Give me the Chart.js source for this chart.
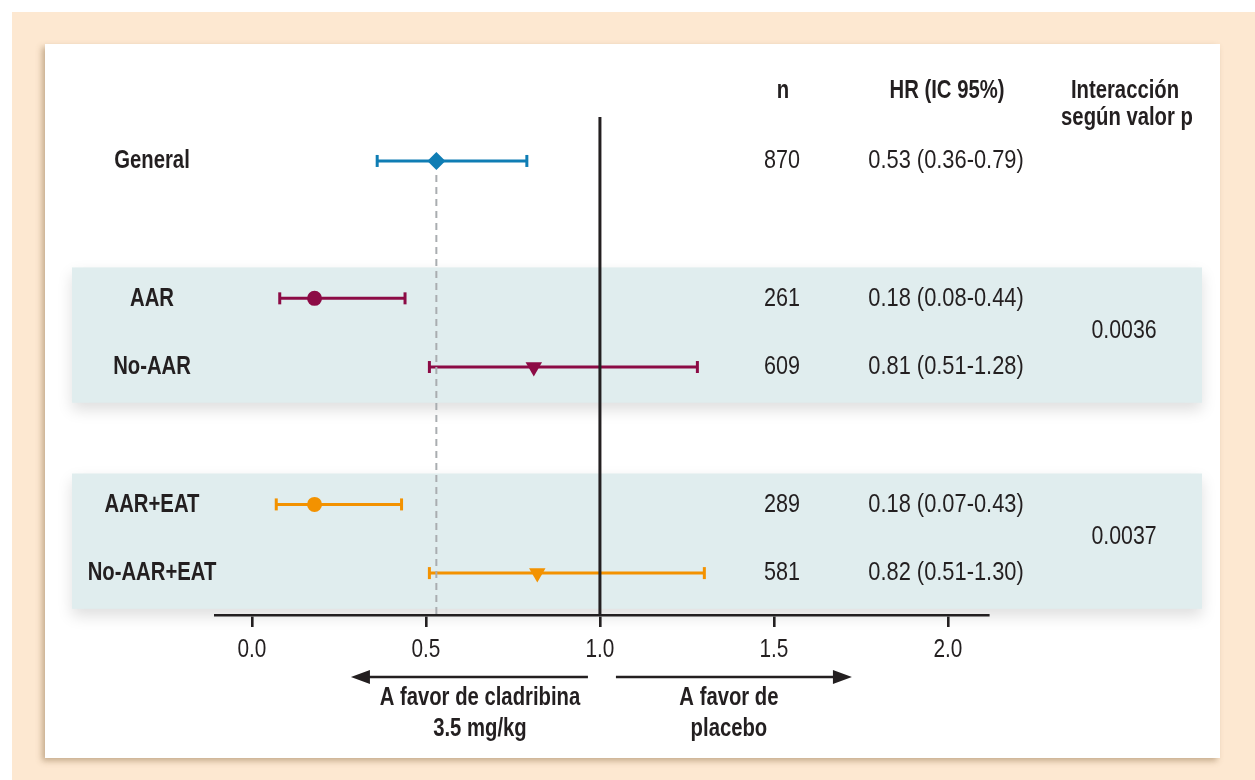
<!DOCTYPE html>
<html>
<head>
<meta charset="utf-8">
<script src="https://cdn.jsdelivr.net/npm/chart.js@4.4.1/dist/chart.umd.min.js"></script>
<style>
	html, body { margin: 0; padding: 0; background: #fff; }
	#wrap { width: 1255px; height: 780px; }
</style>
</head>
<body>
<div id="wrap"><canvas id="myChart" width="1255" height="780"></canvas></div>
<script>
// data
var groups = ["General", "AAR", "No-AAR", "AAR+EAT", "No-AAR+EAT"];
var rowSlot = [0, 2, 3, 5, 6];
var nValues = [870, 261, 609, 289, 581];
var hr = [0.53, 0.18, 0.81, 0.18, 0.82];
var ciLow = [0.36, 0.08, 0.51, 0.07, 0.51];
var ciHigh = [0.79, 0.44, 1.28, 0.43, 1.30];
var pInteraction = ["0.0036", "0.0037"];
var pGroups = [[1, 2], [3, 4]];
var xTicks = [0, 0.5, 1, 1.5, 2];

var colors = ["#0f7db4", "#8c0b45", "#8c0b45", "#f39200", "#f39200"];
var markers = ["rectRot", "circle", "triangle", "circle", "triangle"];
var markerSize = [9, 7.5, 9.5, 7.5, 9.5];
var markerRot = [0, 0, 180, 0, 180];

var ink = "#231f20";
var face = '"Liberation Sans", Arial, sans-serif';

// condensed text: squeeze a normal face horizontally
function txt(c, s, x, y, bold, size, squeeze) {
	c.save();
	c.font = (bold ? 'bold ' : '') + size + 'px ' + face;
	c.textAlign = 'center';
	c.textBaseline = 'middle';
	c.translate(x, y);
	c.scale(squeeze, 1);
	c.fillText(s, 0, 0);
	c.restore();
}

// datasets
var datasets = [{
	type: 'scatter',
	data: hr.map(function(v, i){ return {x: v, y: rowSlot[i]}; }),
	pointStyle: markers,
	pointRadius: markerSize,
	pointRotation: markerRot,
	backgroundColor: colors,
	borderColor: colors,
	pointBorderWidth: 0
}];
groups.forEach(function(g, i){
	datasets.push({
		type: 'line',
		data: [{x: ciLow[i], y: rowSlot[i]}, {x: ciHigh[i], y: rowSlot[i]}],
		borderColor: colors[i],
		borderWidth: 3,
		pointStyle: 'line',
		pointRotation: 90,
		pointRadius: 6,
		pointBorderWidth: 3,
		pointBorderColor: colors[i],
		tension: 0
	});
});

var forestDecor = {
	id: 'forestDecor',
	beforeDraw: function(chart){
		var c = chart.ctx, y = chart.scales.y;
		c.save();
		// page
		c.fillStyle = '#fde8d1';
		c.fillRect(12, 12, 1243, 768);
		c.shadowColor = 'rgba(130,100,60,0.45)';
		c.shadowBlur = 6;
		c.shadowOffsetX = -3;
		c.shadowOffsetY = 3;
		c.fillStyle = '#ffffff';
		c.fillRect(45, 44, 1175, 714);
		// bands
		c.shadowColor = 'rgba(0,0,0,0.13)';
		c.shadowBlur = 14;
		c.shadowOffsetX = 0;
		c.shadowOffsetY = 7;
		c.fillStyle = '#e0edee';
		pGroups.forEach(function(pg){
			var t = y.getPixelForValue(rowSlot[pg[0]] - 0.45);
			var b = y.getPixelForValue(rowSlot[pg[1]] + 0.52);
			c.fillRect(72, t, 1130, b - t);
		});
		c.restore();
	},
	afterDatasetsDraw: function(chart){
		var c = chart.ctx, x = chart.scales.x, y = chart.scales.y, a = chart.chartArea;
		c.save();
		// dashed overall line
		var xd = x.getPixelForValue(hr[0]);
		c.strokeStyle = '#a9adb0';
		c.lineWidth = 2;
		c.setLineDash([7, 5]);
		c.beginPath();
		c.moveTo(xd, y.getPixelForValue(rowSlot[0]) + 14);
		c.lineTo(xd, a.bottom);
		c.stroke();
		c.setLineDash([]);
		// null line
		var x1 = x.getPixelForValue(1);
		c.strokeStyle = ink;
		c.lineWidth = 3;
		c.beginPath();
		c.moveTo(x1, a.top);
		c.lineTo(x1, a.bottom);
		c.stroke();
		c.restore();
	},
	afterDraw: function(chart){
		var c = chart.ctx, x = chart.scales.x, y = chart.scales.y;
		c.save();
		c.fillStyle = ink;
		// headers
		txt(c, 'n', 783, 91, true, 26, 0.78);
		txt(c, 'HR (IC 95%)', 947, 91, true, 26, 0.78);
		txt(c, 'Interacción', 1125, 91, true, 26, 0.78);
		txt(c, 'según valor p', 1127, 118, true, 26, 0.78);
		groups.forEach(function(g, i){
			var py = y.getPixelForValue(rowSlot[i]);
			txt(c, g, 152, py, true, 26, 0.78);
			txt(c, String(nValues[i]), 782, py, false, 26, 0.83);
			txt(c, hr[i].toFixed(2) + ' (' + ciLow[i].toFixed(2) + '-' + ciHigh[i].toFixed(2) + ')', 946, py, false, 26, 0.84);
		});
		pGroups.forEach(function(pg, k){
			var py = (y.getPixelForValue(rowSlot[pg[0]]) + y.getPixelForValue(rowSlot[pg[1]])) / 2 - 2;
			txt(c, pInteraction[k], 1124, py, false, 26, 0.82);
		});
		// x tick labels
		x.ticks.forEach(function(t){
			txt(c, t.value.toFixed(1), x.getPixelForValue(t.value), 650, false, 26, 0.8);
		});
		// arrows
		var x1 = x.getPixelForValue(1), ay = 677;
		c.strokeStyle = ink;
		c.lineWidth = 2.6;
		c.beginPath();
		c.moveTo(x1 - 12, ay); c.lineTo(x1 - 232, ay);
		c.moveTo(x1 + 16, ay); c.lineTo(x1 + 235, ay);
		c.stroke();
		c.beginPath();
		c.moveTo(x1 - 249, ay); c.lineTo(x1 - 230, ay - 7); c.lineTo(x1 - 230, ay + 7); c.closePath();
		c.moveTo(x1 + 252, ay); c.lineTo(x1 + 233, ay - 7); c.lineTo(x1 + 233, ay + 7); c.closePath();
		c.fill();
		txt(c, 'A favor de cladribina', x1 - 120, 698, true, 26, 0.78);
		txt(c, '3.5 mg/kg', x1 - 120, 729, true, 26, 0.78);
		txt(c, 'A favor de', x1 + 129, 698, true, 26, 0.78);
		txt(c, 'placebo', x1 + 129, 729, true, 26, 0.78);
		c.restore();
	}
};

var ctx = document.getElementById('myChart').getContext('2d');
var chart = new Chart(ctx, {
	type: 'scatter',
	data: { datasets: datasets },
	options: {
		responsive: false,
		animation: false,
		layout: { padding: { left: 215, right: 267, top: 117, bottom: 153 } },
		plugins: { legend: { display: false }, tooltip: { enabled: false } },
		scales: {
			x: {
				type: 'linear',
				min: -0.106,
				max: 2.115,
				afterBuildTicks: function(scale){
					scale.ticks = xTicks.map(function(v){ return {value: v}; });
				},
				ticks: { display: false },
				grid: { display: true, drawOnChartArea: false, drawTicks: true, tickLength: 12, color: ink, lineWidth: 2.6 },
				border: { display: true, color: ink, width: 2.6 }
			},
			y: {
				type: 'linear',
				display: false,
				reverse: true,
				min: -0.64,
				max: 6.61
			}
		}
	},
	plugins: [forestDecor]
});
</script>
</body>
</html>
